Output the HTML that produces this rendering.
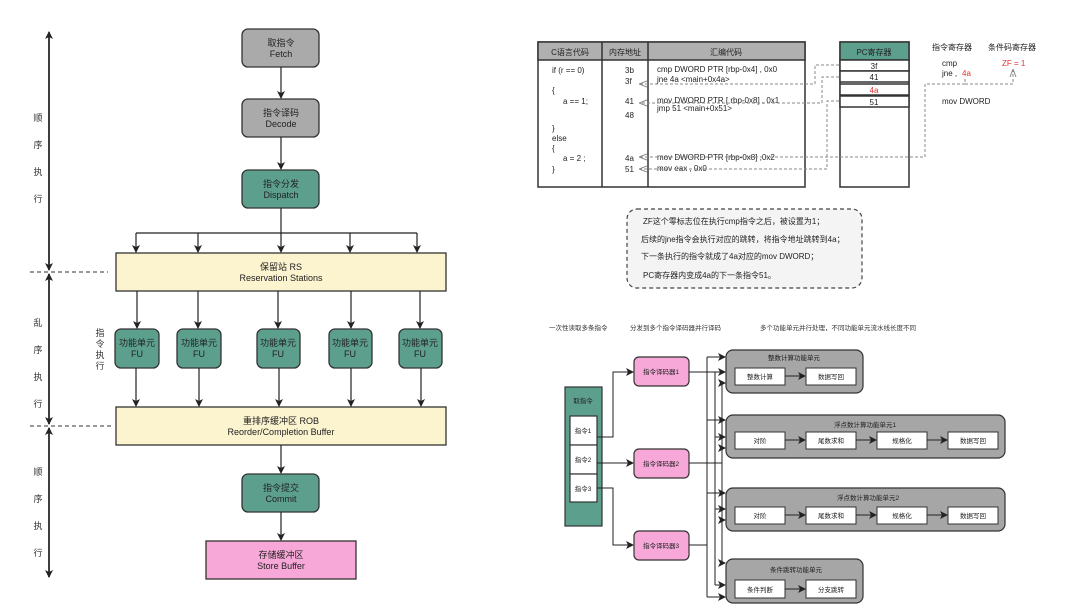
<!DOCTYPE html>
<html><head><meta charset="utf-8"><style>
body{margin:0;background:#fff;}
svg{display:block;font-family:"Liberation Sans","Noto Sans CJK SC",sans-serif;}
</style></head><body>
<svg width="1080" height="612" viewBox="0 0 1080 612" xmlns="http://www.w3.org/2000/svg">
<defs>
<marker id="a" markerWidth="8" markerHeight="8" refX="7" refY="4" orient="auto" markerUnits="userSpaceOnUse"><path d="M0,0 L8,4 L0,8 L2,4 z" fill="#222"/></marker>
<marker id="g" markerWidth="8" markerHeight="8" refX="7" refY="4" orient="auto" markerUnits="userSpaceOnUse"><path d="M0,1 L8,4 L0,7" fill="none" stroke="#888"/></marker>
</defs>
<rect width="1080" height="612" fill="#fff"/>

<!-- LEFT -->
<g stroke="#222" stroke-width="1.5" fill="none">
<line x1="49" y1="268" x2="49" y2="32" marker-end="url(#a)"/>
<line x1="49" y1="33" x2="49" y2="270" marker-end="url(#a)"/>
<line x1="49" y1="424" x2="49" y2="274" marker-end="url(#a)"/>
<line x1="49" y1="274" x2="49" y2="424" marker-end="url(#a)"/>
<line x1="49" y1="428" x2="49" y2="577" marker-end="url(#a)"/>
<line x1="49" y1="577" x2="49" y2="428" marker-end="url(#a)"/>
</g>
<g stroke="#333" stroke-dasharray="4,3" stroke-width="1"><line x1="30" y1="272" x2="108" y2="272"/><line x1="30" y1="426" x2="113" y2="426"/></g>
<g font-size="9" fill="#333" text-anchor="middle">
<text x="38" y="121">顺</text><text x="38" y="148">序</text><text x="38" y="175">执</text><text x="38" y="202">行</text>
<text x="38" y="326">乱</text><text x="38" y="353">序</text><text x="38" y="380">执</text><text x="38" y="407">行</text>
<text x="38" y="475">顺</text><text x="38" y="502">序</text><text x="38" y="529">执</text><text x="38" y="556">行</text>
<text x="100" y="336">指</text><text x="100" y="347">令</text><text x="100" y="358">执</text><text x="100" y="369">行</text>
</g>

<g stroke="#333" stroke-width="1.3">
<rect x="242" y="29" width="77" height="38" rx="6" fill="#aaaaaa"/>
<rect x="242" y="99" width="77" height="38" rx="6" fill="#aaaaaa"/>
<rect x="242" y="170" width="77" height="38" rx="6" fill="#5c9f8d"/>
<rect x="116" y="253" width="330" height="38" fill="#fcf3cf"/>
<rect x="116" y="407" width="330" height="38" fill="#fcf3cf"/>
<rect x="242" y="474" width="77" height="38" rx="6" fill="#5c9f8d"/>
<rect x="206" y="541" width="150" height="38" fill="#f7a8d8"/>
<rect x="115" y="329" width="44" height="39" rx="6" fill="#5c9f8d"/>
<rect x="177" y="329" width="44" height="39" rx="6" fill="#5c9f8d"/>
<rect x="257" y="329" width="43" height="39" rx="6" fill="#5c9f8d"/>
<rect x="329" y="329" width="43" height="39" rx="6" fill="#5c9f8d"/>
<rect x="399" y="329" width="43" height="39" rx="6" fill="#5c9f8d"/>
</g>
<g stroke="#222" stroke-width="1.2" fill="none">
<line x1="281" y1="67" x2="281" y2="98" marker-end="url(#a)"/>
<line x1="281" y1="137" x2="281" y2="169" marker-end="url(#a)"/>
<line x1="281" y1="208" x2="281" y2="252" marker-end="url(#a)"/>
<line x1="136" y1="233" x2="417" y2="233"/>
<line x1="136" y1="233" x2="136" y2="252" marker-end="url(#a)"/>
<line x1="198" y1="233" x2="198" y2="252" marker-end="url(#a)"/>
<line x1="350" y1="233" x2="350" y2="252" marker-end="url(#a)"/>
<line x1="417" y1="233" x2="417" y2="252" marker-end="url(#a)"/>
<line x1="137" y1="291" x2="137" y2="328" marker-end="url(#a)"/>
<line x1="198" y1="291" x2="198" y2="328" marker-end="url(#a)"/>
<line x1="278" y1="291" x2="278" y2="328" marker-end="url(#a)"/>
<line x1="351" y1="291" x2="351" y2="328" marker-end="url(#a)"/>
<line x1="420" y1="291" x2="420" y2="328" marker-end="url(#a)"/>
<line x1="136" y1="368" x2="136" y2="406" marker-end="url(#a)"/>
<line x1="199" y1="368" x2="199" y2="406" marker-end="url(#a)"/>
<line x1="279" y1="368" x2="279" y2="406" marker-end="url(#a)"/>
<line x1="351" y1="368" x2="351" y2="406" marker-end="url(#a)"/>
<line x1="421" y1="368" x2="421" y2="406" marker-end="url(#a)"/>
<line x1="281" y1="445" x2="281" y2="473" marker-end="url(#a)"/>
<line x1="281" y1="512" x2="281" y2="540" marker-end="url(#a)"/>
</g>
<g font-size="9" fill="#222" text-anchor="middle">
<text x="281" y="46">取指令</text><text x="281" y="57">Fetch</text>
<text x="281" y="116">指令译码</text><text x="281" y="127">Decode</text>
<text x="281" y="187">指令分发</text><text x="281" y="198">Dispatch</text>
<text x="281" y="270">保留站 RS</text><text x="281" y="281">Reservation Stations</text>
<text x="281" y="424">重排序缓冲区 ROB</text><text x="281" y="435">Reorder/Completion Buffer</text>
<text x="281" y="491">指令提交</text><text x="281" y="502">Commit</text>
<text x="281" y="558">存储缓冲区</text><text x="281" y="569">Store Buffer</text>
<text x="137" y="346">功能单元</text><text x="137" y="357">FU</text>
<text x="199" y="346">功能单元</text><text x="199" y="357">FU</text>
<text x="278" y="346">功能单元</text><text x="278" y="357">FU</text>
<text x="350" y="346">功能单元</text><text x="350" y="357">FU</text>
<text x="420" y="346">功能单元</text><text x="420" y="357">FU</text>
</g>

<!-- RIGHT TOP -->
<g stroke="#333" stroke-width="1.5">
<rect x="538" y="42" width="267" height="145" fill="#fff"/>
<rect x="538" y="42" width="267" height="18" fill="#b0b0b0"/>
<line x1="602" y1="42" x2="602" y2="187"/><line x1="648" y1="42" x2="648" y2="187"/>
<rect x="840" y="42" width="69" height="145" fill="#fff"/>
<rect x="840" y="42" width="69" height="18" fill="#5c9f8d"/>
<rect x="840" y="60" width="69" height="11" fill="#fff"/>
<rect x="840" y="71" width="69" height="11" fill="#fff"/>
<rect x="840" y="84" width="69" height="11" fill="#fff"/>
<rect x="840" y="96" width="69" height="11" fill="#fff"/>
</g>
<g font-size="8" fill="#222">
<text x="570" y="55" text-anchor="middle">C语言代码</text>
<text x="625" y="55" text-anchor="middle">内存地址</text>
<text x="726" y="55" text-anchor="middle">汇编代码</text>
<text x="874" y="55" text-anchor="middle">PC寄存器</text>
<text x="874" y="69" text-anchor="middle">3f</text>
<text x="874" y="80" text-anchor="middle">41</text>
<text x="874" y="93" text-anchor="middle" fill="#d33">4a</text>
<text x="874" y="105" text-anchor="middle">51</text>
<text x="552" y="73">if  (r == 0)</text>
<text x="552" y="93">{</text>
<text x="563" y="104">a == 1;</text>
<text x="552" y="131">}</text>
<text x="552" y="141">else</text>
<text x="552" y="151">{</text>
<text x="563" y="161">a = 2 ;</text>
<text x="552" y="172">}</text>
<text x="625" y="73">3b</text><text x="625" y="84">3f</text><text x="625" y="104">41</text><text x="625" y="118">48</text><text x="625" y="161">4a</text><text x="625" y="172">51</text>
<text x="657" y="72">cmp    DWORD  PTR  [rbp-0x4] , 0x0</text>
<text x="657" y="82">jne      4a  &lt;main+0x4a&gt;</text>
<text x="657" y="103">mov  DWORD  PTR  [ rbp-0x8] , 0x1</text>
<text x="657" y="111">jmp  51  &lt;main+0x51&gt;</text>
<text x="657" y="160">mov  DWORD  PTR  [rbp-0x8]  ,0x2</text>
<text x="657" y="171">mov  eax , 0x0</text>
<text x="932" y="50">指令寄存器</text>
<text x="988" y="50">条件码寄存器</text>
<text x="942" y="66">cmp</text>
<text x="942" y="76">jne ,</text><text x="962" y="76" fill="#d33">4a</text>
<text x="1002" y="66" fill="#d33">ZF = 1</text>
<text x="942" y="104">mov DWORD</text>
</g>
<g stroke="#888" stroke-width="1" stroke-dasharray="3,2" fill="none">
<path d="M839,65 H815 V84 H640" marker-end="url(#g)"/>
<path d="M839,77 H822 V103 H640" marker-end="url(#g)"/>
<path d="M839,101 H827 V169 H640" marker-end="url(#g)"/>
<path d="M965,84 H925 V157 H640" marker-end="url(#g)"/>
<path d="M965,79 V84 H1013 V70" marker-end="url(#g)"/>
</g>
<rect x="627" y="209" width="235" height="79" rx="10" fill="#f4f4f4" stroke="#444" stroke-width="1.2" stroke-dasharray="4,3"/>
<g font-size="8" fill="#222">
<text x="643" y="224">ZF这个零标志位在执行cmp指令之后，被设置为1；</text>
<text x="641" y="242">后续的jne指令会执行对应的跳转，将指令地址跳转到4a；</text>
<text x="641" y="259">下一条执行的指令就成了4a对应的mov DWORD；</text>
<text x="643" y="278">PC寄存器内变成4a的下一条指令51。</text>
</g>

<!-- RIGHT BOTTOM -->
<g font-size="6.5" fill="#333">
<text x="549" y="330">一次性读取多条指令</text>
<text x="630" y="330">分发到多个指令译码器并行译码</text>
<text x="760" y="330">多个功能单元并行处理，不同功能单元流水线长度不同</text>
</g>
<g stroke="#333" stroke-width="1.2">
<rect x="565" y="387" width="37" height="139" fill="#5c9f8d"/>
<rect x="570" y="416" width="27" height="29" fill="#fff"/>
<rect x="570" y="445" width="27" height="29" fill="#fff"/>
<rect x="570" y="474" width="27" height="28" fill="#fff"/>
<rect x="634" y="357" width="55" height="29" rx="5" fill="#f7a8d8"/>
<rect x="634" y="449" width="55" height="29" rx="5" fill="#f7a8d8"/>
<rect x="634" y="531" width="55" height="29" rx="5" fill="#f7a8d8"/>
<rect x="726" y="350" width="137" height="43" rx="7" fill="#a6a6a6"/>
<rect x="726" y="415" width="279" height="43" rx="7" fill="#a6a6a6"/>
<rect x="726" y="488" width="279" height="43" rx="7" fill="#a6a6a6"/>
<rect x="726" y="559" width="137" height="44" rx="7" fill="#a6a6a6"/>
</g>
<g stroke="#333" stroke-width="1" fill="#fff">
<rect x="735" y="368" width="50" height="17"/><rect x="806" y="368" width="50" height="17"/>
<rect x="735" y="432" width="50" height="17"/><rect x="806" y="432" width="50" height="17"/><rect x="877" y="432" width="50" height="17"/><rect x="948" y="432" width="50" height="17"/>
<rect x="735" y="507" width="50" height="17"/><rect x="806" y="507" width="50" height="17"/><rect x="877" y="507" width="50" height="17"/><rect x="948" y="507" width="50" height="17"/>
<rect x="735" y="580" width="50" height="18"/><rect x="806" y="580" width="50" height="18"/>
</g>
<g stroke="#222" stroke-width="1" fill="none">
<path d="M597,437 H613 V372 H633" marker-end="url(#a)"/>
<path d="M597,463 H633" marker-end="url(#a)"/>
<path d="M597,488 H613 V545 H633" marker-end="url(#a)"/>
<line x1="785" y1="376" x2="805" y2="376" marker-end="url(#a)"/>
<line x1="785" y1="440" x2="805" y2="440" marker-end="url(#a)"/>
<line x1="856" y1="440" x2="876" y2="440" marker-end="url(#a)"/>
<line x1="927" y1="440" x2="947" y2="440" marker-end="url(#a)"/>
<line x1="785" y1="515" x2="805" y2="515" marker-end="url(#a)"/>
<line x1="856" y1="515" x2="876" y2="515" marker-end="url(#a)"/>
<line x1="927" y1="515" x2="947" y2="515" marker-end="url(#a)"/>
<line x1="785" y1="589" x2="805" y2="589" marker-end="url(#a)"/>
<!-- buses -->
<line x1="689" y1="545" x2="707" y2="545"/>
<line x1="707" y1="357" x2="707" y2="597"/>
<line x1="689" y1="372" x2="715" y2="372"/>
<line x1="715" y1="372" x2="715" y2="585"/>
<line x1="689" y1="463" x2="722" y2="463"/>
<line x1="722" y1="383" x2="722" y2="563"/>
<path d="M707,357 H725" marker-end="url(#a)"/>
<path d="M715,372 H725" marker-end="url(#a)"/>
<path d="M722,383 H725" marker-end="url(#a)"/>
<path d="M707,420 H725" marker-end="url(#a)"/>
<path d="M715,437 H725" marker-end="url(#a)"/>
<path d="M722,448 H725" marker-end="url(#a)"/>
<path d="M707,493 H725" marker-end="url(#a)"/>
<path d="M715,509 H725" marker-end="url(#a)"/>
<path d="M722,520 H725" marker-end="url(#a)"/>
<path d="M722,563 H725" marker-end="url(#a)"/>
<path d="M715,585 H725" marker-end="url(#a)"/>
<path d="M707,597 H725" marker-end="url(#a)"/>
</g>
<g font-size="6.5" fill="#222" text-anchor="middle">
<text x="583" y="403">取指令</text>
<text x="583" y="433">指令1</text><text x="583" y="462">指令2</text><text x="583" y="491">指令3</text>
<text x="661" y="374">指令译码器1</text><text x="661" y="466">指令译码器2</text><text x="661" y="548">指令译码器3</text>
<text x="794" y="360">整数计算功能单元</text>
<text x="865" y="427">浮点数计算功能单元1</text>
<text x="868" y="500">浮点数计算功能单元2</text>
<text x="796" y="572">条件跳转功能单元</text>
<text x="760" y="379">整数计算</text><text x="831" y="379">数据写回</text>
<text x="760" y="443">对阶</text><text x="831" y="443">尾数求和</text><text x="902" y="443">规格化</text><text x="973" y="443">数据写回</text>
<text x="760" y="518">对阶</text><text x="831" y="518">尾数求和</text><text x="902" y="518">规格化</text><text x="973" y="518">数据写回</text>
<text x="760" y="592">条件判断</text><text x="831" y="592">分支跳转</text>
</g>
</svg>
</body></html>
